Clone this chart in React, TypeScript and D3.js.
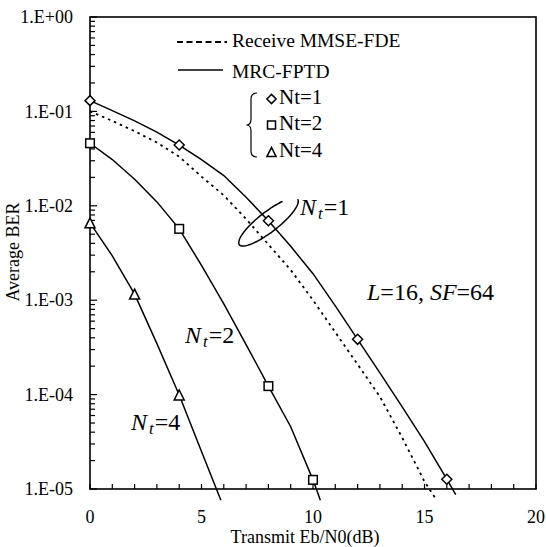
import React from "react";
import * as d3 from "d3";

// Eb/N0 (dB) and BER
const snrMrc1 = [0, 1, 2, 3, 4, 5, 6, 7, 8, 9, 10, 11, 12, 13, 14, 15, 16, 16.4];
const berMrc1 = [0.13, 0.102, 0.0794, 0.0603, 0.044, 0.0309, 0.0209, 0.0123, 0.00695, 0.00372, 0.00191, 0.00087, 0.000385, 0.00017, 7.4e-5, 3.17e-5, 1.27e-5, 8.7e-6];

const snrMmse1 = [0, 1, 2, 3, 4, 5, 6, 7, 8, 9, 10, 11, 12, 13, 14, 15, 15.5];
const berMmse1 = [0.1, 0.0794, 0.0617, 0.0468, 0.0331, 0.0204, 0.0129, 0.00724, 0.00389, 0.00209, 0.001, 0.000457, 0.000209, 9.5e-5, 3.5e-5, 1.2e-5, 7.9e-6];

const snrMrc2 = [0, 1, 2, 3, 4, 5, 6, 7, 8, 9, 10, 10.33];
const berMrc2 = [0.046, 0.0309, 0.0191, 0.011, 0.0057, 0.00234, 0.000912, 0.000339, 0.000123, 4.57e-5, 1.25e-5, 7.6e-6];

const snrMrc4 = [0, 1, 2, 3, 4, 5, 5.87];
const berMrc4 = [0.0066, 0.00295, 0.00116, 0.000347, 9.9e-5, 2.5e-5, 7.6e-6];

// marker positions
const mkSnr1 = [0, 4, 8, 12, 16];
const mkBer1 = [0.13, 0.044, 0.00695, 0.000385, 1.27e-5];
const mkSnr2 = [0, 4, 8, 10];
const mkBer2 = [0.046, 0.0057, 0.000123, 1.25e-5];
const mkSnr4 = [0, 2, 4];
const mkBer4 = [0.0066, 0.00116, 9.9e-5];

const xTicks = [0, 5, 10, 15, 20];
const yTicks = [1, 0.1, 0.01, 0.001, 0.0001, 0.00001];
const yTickLabels = ["1.E+00", "1.E-01", "1.E-02", "1.E-03", "1.E-04", "1.E-05"];

const W = 546;
const H = 547;
const left = 90;
const right = 536;
const top = 17;
const bottom = 489;
const font = "Liberation Serif, DejaVu Serif, serif";

const x = d3.scaleLinear().domain([0, 20]).range([left, right]);
const y = d3.scaleLog().domain([1e-5, 1]).range([bottom, top]);

const zip = (xs: number[], ys: number[]) => xs.map((v, i) => [v, ys[i]] as [number, number]);

const line = d3
  .line<[number, number]>()
  .x(d => x(d[0]))
  .y(d => y(d[1]));

const Diamond = ({ cx, cy, r = 5 }: { cx: number; cy: number; r?: number }) => (
  <path d={`M${cx},${cy - r}L${cx + r},${cy}L${cx},${cy + r}L${cx - r},${cy}Z`} fill="white" stroke="black" strokeWidth={1.5} />
);
const Square = ({ cx, cy, s = 4.3 }: { cx: number; cy: number; s?: number }) => (
  <rect x={cx - s} y={cy - s} width={s * 2} height={s * 2} fill="white" stroke="black" strokeWidth={1.5} />
);
const Triangle = ({ cx, cy, r = 5 }: { cx: number; cy: number; r?: number }) => (
  <path d={`M${cx},${cy - r}L${cx + r},${cy + r}L${cx - r},${cy + r}Z`} fill="white" stroke="black" strokeWidth={1.5} />
);

// open ellipse around the Nt=1 pair of curves
function ellipsePath(cx: number, cy: number, rx: number, ry: number, rot: number) {
  const u = [Math.cos(rot), Math.sin(rot)];
  const v = [-Math.sin(rot), Math.cos(rot)];
  const pts: [number, number][] = [];
  for (let a = 0; a <= 310; a += 5) {
    const t = (a * Math.PI) / 180;
    pts.push([
      cx + rx * Math.cos(t) * u[0] + ry * Math.sin(t) * v[0],
      cy + rx * Math.cos(t) * u[1] + ry * Math.sin(t) * v[1],
    ]);
  }
  return d3.line().curve(d3.curveBasis)(pts) || "";
}

const NtLabel = ({ px, py, n }: { px: number; py: number; n: string }) => (
  <text x={px} y={py} fontFamily={font} fontSize={24}>
    <tspan fontStyle="italic">N</tspan>
    <tspan fontStyle="italic" fontSize={17} dy={4} dx={2}>t</tspan>
    <tspan dy={-4} dx={1}>={n}</tspan>
  </text>
);

export default function App() {
  const minor: number[] = [];
  for (let e = -5; e < 0; e++) {
    for (let k = 2; k <= 9; k++) minor.push(k * Math.pow(10, e));
  }
  const xMinor = d3.range(0, 21, 1);

  return (
    <svg width={W} height={H} style={{ position: "absolute", left: 0, top: 0, background: "white" }}>
      <rect width={W} height={H} fill="white" />

      {/* curves */}
      <g fill="none" stroke="black">
        <path d={line(zip(snrMrc1, berMrc1)) || ""} strokeWidth={1.5} />
        <path d={line(zip(snrMmse1, berMmse1)) || ""} strokeWidth={1.8} strokeDasharray="2.5,4" />
        <path d={line(zip(snrMrc2, berMrc2)) || ""} strokeWidth={1.5} />
        <path d={line(zip(snrMrc4, berMrc4)) || ""} strokeWidth={1.5} />
      </g>

      {/* frame */}
      <rect x={left} y={top} width={right - left} height={bottom - top} fill="none" stroke="black" strokeWidth={1.6} />

      {/* ticks */}
      <g stroke="black" strokeWidth={1.2}>
        {yTicks.map(t => (
          <line key={"M" + t} x1={left} x2={left + 7} y1={y(t)} y2={y(t)} />
        ))}
        {minor.map(t => (
          <line key={"m" + t} x1={left} x2={left + 5} y1={y(t)} y2={y(t)} />
        ))}
        {xMinor.map(t => (
          <line key={"x" + t} x1={x(t)} x2={x(t)} y1={bottom} y2={bottom - 5} />
        ))}
      </g>

      {/* tick labels */}
      <g fontFamily={font} fontSize={18} fill="black">
        {yTicks.map((t, i) => (
          <text key={t} x={73} y={y(t)} dy="0.34em" textAnchor="end">
            {yTickLabels[i]}
          </text>
        ))}
        {xTicks.map(t => (
          <text key={t} x={x(t)} y={523} textAnchor="middle">
            {t}
          </text>
        ))}
        <text x={305} y={543} textAnchor="middle">Transmit Eb/N0(dB)</text>
        <text transform="translate(19,252) rotate(-90)" textAnchor="middle">Average BER</text>
      </g>

      {/* markers */}
      {zip(mkSnr1, mkBer1).map((d, i) => (
        <Diamond key={"d" + i} cx={x(d[0])} cy={y(d[1])} />
      ))}
      {zip(mkSnr2, mkBer2).map((d, i) => (
        <Square key={"s" + i} cx={x(d[0])} cy={y(d[1])} />
      ))}
      {zip(mkSnr4, mkBer4).map((d, i) => (
        <Triangle key={"t" + i} cx={x(d[0])} cy={y(d[1])} />
      ))}

      {/* legend */}
      <g fontFamily={font} fontSize={19.5} fill="black">
        <line x1={177} x2={227} y1={42} y2={42} stroke="black" strokeWidth={2.2} strokeDasharray="6,3.5" />
        <text x={232} y={47}>Receive MMSE-FDE</text>
        <line x1={178} x2={223} y1={70} y2={70} stroke="black" strokeWidth={1.5} />
        <text x={232} y={78}>MRC-FPTD</text>
        <path
          d="M257,93 Q251,93 251,99 L251,119 Q251,125 246.5,125 Q251,125 251,131 L251,151 Q251,157 257,157"
          fill="none"
          stroke="black"
          strokeWidth={1.2}
        />
        <Diamond cx={271.5} cy={99} r={4.6} />
        <text x={279} y={103.5} fontSize={21}>Nt=1</text>
        <Square cx={271.5} cy={125} s={4} />
        <text x={279} y={130} fontSize={21}>Nt=2</text>
        <Triangle cx={271.5} cy={152} r={4.6} />
        <text x={279} y={157} fontSize={21}>Nt=4</text>
      </g>

      {/* annotations */}
      <path d={ellipsePath(268.5, 222, 37, 10, (-38 * Math.PI) / 180)} fill="none" stroke="black" strokeWidth={1.5} />
      <NtLabel px={300} py={215} n="1" />
      <NtLabel px={185} py={343} n="2" />
      <NtLabel px={131} py={430} n="4" />
      <text x={367} y={300} fontFamily={font} fontSize={24}>
        <tspan fontStyle="italic">L</tspan>
        <tspan>=16, </tspan>
        <tspan fontStyle="italic">SF</tspan>
        <tspan>=64</tspan>
      </text>
    </svg>
  );
}
